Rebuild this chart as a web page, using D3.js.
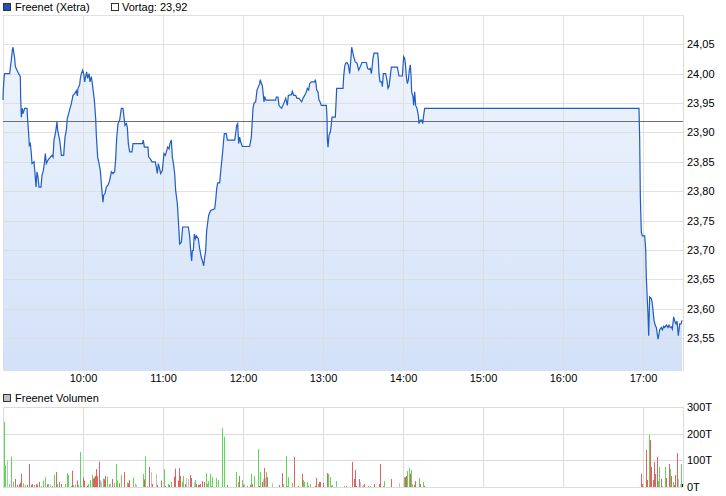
<!DOCTYPE html>
<html><head><meta charset="utf-8">
<script src="https://cdn.jsdelivr.net/npm/d3@7"></script>
<style>
body{margin:0;background:#fff}
svg{display:block}
text{font-family:"Liberation Sans",Arial,sans-serif;font-size:11px;fill:#000}
</style>
</head><body>
<svg id="c" width="726" height="496"></svg>
<script>
// ---------- data ----------
const seriesName = "Freenet (Xetra)";
const prevCloseLabel = "Vortag: 23,92";
const prevClose = 23.92;
const volumeName = "Freenet Volumen";
const priceTicks = [23.55,23.60,23.65,23.70,23.75,23.80,23.85,23.90,23.95,24.00,24.05];
const gridTicks = [23.55,23.60,23.65,23.70,23.75,23.80,23.85,23.90,23.95,24.00,24.05,24.10];
const hourLabels = ["10:00","11:00","12:00","13:00","14:00","15:00","16:00","17:00"];
const volTicks = [0,100,200,300];
const volTickLabels = ["0T","100T","200T","300T"];

// minutes after 09:00 and price
const priceMin = [0,0.2,1,1.25,5,6.25,7,7.5,8,8.75,9.25,10.5,11.75,13,13.25,13.75,14.5,15,16.25,18,18.5,19.25,19.75,20.5,21.25,21.75,23.25,24,24.75,25.5,26.25,27,28.5,29.25,30.25,31,31.75,32.5,33.75,35.5,36.75,37.5,38.25,39.5,40.5,41,41.75,42.5,43.25,43.75,45.5,46.5,47.5,48.25,49.25,50.25,51.25,52.5,53.75,55,55.75,56.25,57.5,58,58.75,59.75,60.5,61.25,62,62.75,63.5,64.5,65.25,66.25,67,68.5,69.5,70,71,72,73,73.75,74.5,75,75.5,76.5,77.5,78.75,80,81.25,82.5,83.75,84.5,85.25,86.25,87.5,88.75,90,90.75,91.5,92.5,93.25,94,95,96.75,97.5,104.5,105.25,106,108.75,109.25,110.5,111.75,114.25,115,115.75,116.5,117.5,118.25,119.5,120.75,121.75,122.5,123.5,124.5,125.25,126.25,127,128,128.75,129.5,130.75,131.75,132.5,133.75,134.75,139,140,140.75,141.5,142,142.75,143.5,144.25,145,146.5,147.5,148.75,149.5,150.5,151.25,152,152.75,154.25,155.75,158.75,159.5,160.25,161,162.5,163,164,164.75,165.5,166,167.5,168.25,173.75,174.5,175.25,176,176.75,177.5,178.25,179.5,185,186.25,187,187.5,188.25,189.5,190.5,192.5,193,193.75,194.5,195.25,195.75,196.25,197.25,204.5,205,206.25,207,208,209,210,211,212,213.25,214,215.5,216.25,217,218,219.5,220.5,222,223,224,225,226.25,227.5,228.25,229.25,230,231.25,233.75,234.25,234.75,235.25,236.25,237,237.75,238.75,242.5,243,243.25,243.75,244.5,245.5,246,246.75,249.25,249.75,250.25,255,255.5,256.25,257,258,259,260,260.75,261.5,262.25,263,264.25,265.5,266.75,268,269.25,272.5,273.5,274.5,275.5,276.25,276.75,277.5,278.25,281,281.5,282,282.75,284,284.5,285.25,287,288,288.75,289.5,290.25,291.25,295.75,297,299.5,300.5,301.25,301.75,302.5,303.25,304,304.75,305.5,306,306.5,307.5,308,308.75,309.5,310.5,311.5,312,313,314,314.75,315.5,316.25,477,477.5,478,478.75,479.5,481.25,482,482.5,483.25,483.75,484.25,485,486.25,487,487.5,488.25,489.25,490,491.25,492,492.5,493.75,494.5,495.5,496.25,497.5,498.75,499.5,500.5,501.25,502,503,504,504.75,505.5,506.5,507.5,508.5,509.25];
const priceVal = [23.955,23.972,23.998,24.000,24.000,24.024,24.040,24.045,24.037,24.026,24.012,24.006,24.000,23.995,23.958,23.926,23.941,23.932,23.941,23.941,23.921,23.898,23.878,23.881,23.864,23.847,23.850,23.830,23.807,23.833,23.824,23.807,23.807,23.827,23.835,23.847,23.864,23.847,23.853,23.858,23.861,23.858,23.887,23.901,23.918,23.904,23.895,23.887,23.872,23.861,23.861,23.892,23.904,23.924,23.932,23.941,23.949,23.963,23.966,23.971,23.962,23.975,23.981,23.992,24.000,24.006,24.000,23.986,23.995,24.003,23.992,24.000,23.986,23.995,23.983,23.955,23.924,23.895,23.858,23.847,23.835,23.813,23.793,23.781,23.793,23.796,23.807,23.810,23.818,23.833,23.830,23.833,23.855,23.890,23.915,23.921,23.941,23.941,23.926,23.912,23.915,23.909,23.881,23.867,23.867,23.881,23.881,23.887,23.875,23.875,23.858,23.855,23.850,23.850,23.841,23.830,23.847,23.838,23.830,23.835,23.864,23.861,23.867,23.875,23.872,23.881,23.887,23.858,23.844,23.830,23.801,23.779,23.742,23.710,23.713,23.739,23.739,23.724,23.699,23.681,23.699,23.699,23.727,23.719,23.724,23.719,23.702,23.687,23.682,23.673,23.687,23.699,23.733,23.759,23.767,23.770,23.784,23.804,23.814,23.814,23.827,23.850,23.867,23.887,23.898,23.898,23.887,23.887,23.898,23.912,23.915,23.881,23.892,23.884,23.876,23.876,23.892,23.921,23.941,23.950,23.952,23.972,23.983,23.990,23.983,23.980,23.964,23.952,23.961,23.955,23.955,23.960,23.960,23.946,23.943,23.941,23.946,23.952,23.958,23.946,23.963,23.964,23.964,23.970,23.963,23.963,23.958,23.958,23.955,23.952,23.958,23.963,23.969,23.975,23.972,23.983,23.986,23.986,23.990,23.983,23.972,23.969,23.955,23.952,23.946,23.946,23.926,23.889,23.875,23.895,23.901,23.909,23.926,23.926,23.949,23.975,23.975,23.995,24.012,24.018,24.019,24.015,24.000,24.020,24.045,24.037,24.029,24.020,24.018,24.006,24.012,24.019,24.019,24.009,24.007,24.009,24.000,24.009,24.026,24.035,24.035,24.023,24.000,23.986,23.986,23.978,24.000,24.000,23.989,23.975,23.978,23.992,24.011,24.011,23.996,23.996,24.029,24.026,24.018,23.995,23.983,23.989,24.006,24.015,23.998,23.969,23.961,23.946,23.969,23.946,23.941,23.929,23.915,23.921,23.921,23.915,23.929,23.941,23.941,23.890,23.790,23.730,23.724,23.724,23.702,23.653,23.614,23.591,23.554,23.620,23.617,23.609,23.597,23.580,23.571,23.568,23.548,23.557,23.564,23.568,23.564,23.570,23.568,23.572,23.568,23.572,23.568,23.569,23.565,23.586,23.577,23.574,23.579,23.554,23.574,23.574,23.580];

// volume: minutes after 09:00, volume in thousands, direction (u=up, d=down, n=unchanged)
const volMin = [0.5,1.3,2.8,4.3,6,7.5,9,10.5,12,12.8,13.5,15,16.5,18,19.5,21,21.8,23.3,24.8,25.5,27,28.5,30,31.5,33,33.8,35.3,36.8,38.3,39.8,40.5,42,43.5,46.5,48,48.8,51,51.8,52.5,54,55.5,56.3,57.8,58.5,60,60.8,63,63.8,65.3,66.8,67.5,68.3,69,69.8,70.5,72,72.8,73.5,75,75.8,76.5,78,79.5,80.3,81.8,83.3,84.8,85.5,87,88.5,90.8,93,93.8,94.5,97.5,99,99.8,105,105.8,106.5,108,109.5,110.8,111.8,114.5,115.3,118.3,120.5,121.3,123.5,124.3,125.8,128,128.8,131,131.8,132.5,134,134.8,136.3,137,138.5,140,140.8,143,143.8,144.5,146,146.8,147.5,149,150.5,152,152.8,153.5,155,155.8,156.5,159.5,161,164,165.5,167.8,174.5,176,176.8,179,179.8,180.5,182.8,185,185.8,186.5,188,191,191.8,192.5,194,194.8,195.5,196.3,197,197.8,201.5,206.8,209,209.8,212,212.8,213.5,216.5,218,221,224,224.8,225.5,227.8,228.5,230,233.8,234.5,236,236.8,237.5,239.8,242.8,243.5,245,245.8,246.5,249.5,255.5,257,261.5,263,263.8,264.5,266.8,267.5,269,269.8,270.5,273.5,275,278,281.8,282.5,284.8,285.5,290.8,296.8,300.5,301.3,302,302.8,304.3,305,305.8,306.5,308,308.8,311.8,312.5,314.8,315.5,478.3,479,482,482.8,484.3,485,485.8,487.3,488,488.8,490.3,491,491.8,493.3,494,496.3,497,499.3,500,500.8,502.3,503,503.8,505.3,506,507.8,508.5,509.3];
const volVal = [245,82,99,11,114,20,30,8,10,16,49,14,8,8,86,8,11,8,10,10,19,4,24,37,10,11,10,4,45,56,11,19,11,11,52,45,4,61,8,9,24,8,132,4,36,24,5,12,26,45,32,36,41,67,41,95,26,20,32,29,41,39,11,12,30,14,86,24,14,44,56,17,14,26,35,14,9,49,29,115,5,75,56,11,49,8,24,67,4,11,8,19,39,69,24,71,41,19,41,11,34,30,45,34,19,26,11,8,8,11,22,19,52,11,22,49,4,37,34,26,222,189,8,56,19,41,26,8,11,4,8,49,11,41,142,4,56,19,30,71,34,56,37,15,8,52,11,116,4,37,15,112,4,49,26,19,19,4,11,4,34,11,19,19,15,52,49,37,4,8,22,4,4,94,30,64,4,30,19,4,8,11,4,4,11,11,86,4,22,30,15,37,37,41,60,71,49,64,11,8,22,34,11,19,4,49,11,139,26,195,176,75,26,94,49,112,22,75,30,4,75,34,86,67,41,19,8,45,127,30,11,86,11];
const volDir = ["u","u","n","u","u","u","d","d","d","d","d","u","u","d","d","d","d","u","d","d","d","u","u","u","d","u","n","u","u","d","u","d","d","u","u","u","u","d","u","u","d","u","u","u","d","d","d","u","u","u","d","d","d","d","d","d","n","n","u","d","d","u","u","n","d","u","u","u","d","u","d","u","d","d","u","n","n","u","d","u","n","d","n","d","n","d","d","u","d","u","d","u","d","d","d","d","d","u","u","d","n","n","d","d","n","u","d","d","d","d","d","d","u","u","u","u","u","u","u","u","u","u","d","u","u","d","u","d","n","d","d","u","d","u","u","d","u","d","n","d","n","u","d","n","d","d","u","u","u","u","u","d","d","d","u","u","u","d","u","d","d","u","d","d","d","d","u","u","d","u","u","u","u","d","d","d","d","d","n","n","n","d","u","u","d","d","d","u","u","d","n","u","d","d","u","u","d","u","u","d","d","u","d","u","d","d","d","d","d","u","d","d","d","d","d","d","u","u","d","u","u","d","d","u","d","u","d","d","d","n","n","u"];

// ---------- layout ----------
const svg = d3.select("#c");
const base = new Date(2020,0,1,9,0,0);
const toDate = m => new Date(base.getTime() + m*60000);
const x = d3.scaleTime().domain([toDate(0), toDate(510)]).range([3,683]);
const y = d3.scaleLinear().domain([23.55,24.05]).range([338,44.3]);
const plotTop = 15, plotBottom = 371, plotLeft = 3, plotRight = 683;
const yv = d3.scaleLinear().domain([0,300]).range([487,407]);
const crisp = v => Math.round(v) + 0.5;
const gridColor = "#dcdcdc";

const hourDates = d3.range(9,18).map(h => new Date(2020,0,1,h,0,0));
const labelDates = hourLabels.map(s => { const [h,mm] = s.split(":").map(Number); return new Date(2020,0,1,h,mm,0); });

// gradient
const defs = svg.append("defs");
const grad = defs.append("linearGradient").attr("id","fillGrad")
  .attr("gradientUnits","userSpaceOnUse").attr("x1",0).attr("x2",0).attr("y1",plotTop).attr("y2",plotBottom);
grad.append("stop").attr("offset","0%").attr("stop-color","#f1f6fd");
grad.append("stop").attr("offset","100%").attr("stop-color","#d3e1f8");

// ---------- price panel ----------
const gP = svg.append("g");
const pts = priceMin.map((m,i) => [toDate(m), priceVal[i]]);
gP.append("path").datum(pts)
  .attr("fill","url(#fillGrad)")
  .attr("d", d3.area().x(d=>x(d[0])).y0(plotBottom).y1(d=>y(d[1])));
gP.selectAll(".hg").data(gridTicks).join("line")
  .attr("x1",plotLeft).attr("x2",plotRight)
  .attr("y1",d=>crisp(y(d))).attr("y2",d=>crisp(y(d)))
  .attr("stroke",gridColor).attr("stroke-width",1).attr("opacity",0.85);
gP.selectAll(".vg").data(hourDates).join("line")
  .attr("x1",d=>crisp(x(d))).attr("x2",d=>crisp(x(d)))
  .attr("y1",plotTop).attr("y2",plotBottom)
  .attr("stroke",gridColor).attr("stroke-width",1).attr("opacity",0.85);
gP.append("line").attr("x1",plotRight+0.5).attr("x2",plotRight+0.5)
  .attr("y1",plotTop).attr("y2",plotBottom).attr("stroke",gridColor);
gP.append("line").attr("x1",plotLeft).attr("x2",plotRight)
  .attr("y1",crisp(y(prevClose))).attr("y2",crisp(y(prevClose)))
  .attr("stroke","#6e6e6e").attr("stroke-width",1);
gP.append("path").datum(pts)
  .attr("fill","none").attr("stroke","#1f5cc4").attr("stroke-width",1.2)
  .attr("stroke-linejoin","miter")
  .attr("d", d3.line().x(d=>x(d[0])).y(d=>y(d[1])));

// right axis
const yAxis = d3.axisRight(y).tickValues(priceTicks).tickSize(0).tickPadding(4)
  .tickFormat(d => d.toFixed(2).replace(".",","));
const ya = svg.append("g").attr("transform",`translate(${plotRight},0)`).call(yAxis);
ya.select(".domain").remove();
ya.selectAll("text").attr("font-family","Liberation Sans, Arial, sans-serif").attr("font-size",11).attr("fill","#000");

// bottom axis
const xAxis = d3.axisBottom(x).tickValues(labelDates).tickSize(0).tickPadding(3)
  .tickFormat((d,i) => hourLabels[i]);
const xa = svg.append("g").attr("transform",`translate(0,${plotBottom})`).call(xAxis);
xa.select(".domain").remove();
xa.selectAll("text").attr("font-family","Liberation Sans, Arial, sans-serif").attr("font-size",11).attr("fill","#000");

// legend
svg.append("rect").attr("x",3.5).attr("y",3.5).attr("width",7).attr("height",7)
  .attr("fill","#1f52b4").attr("stroke","#333");
svg.append("text").attr("x",15).attr("y",10.5).text(seriesName);
svg.append("rect").attr("x",111.5).attr("y",3.5).attr("width",7).attr("height",7)
  .attr("fill","#fff").attr("stroke","#333");
svg.append("text").attr("x",122).attr("y",10.5).text(prevCloseLabel);

// ---------- volume panel ----------
const gV = svg.append("g");
gV.selectAll(".vhg").data(volTicks).join("line")
  .attr("x1",plotLeft).attr("x2",plotRight)
  .attr("y1",d=>crisp(yv(d))).attr("y2",d=>crisp(yv(d)))
  .attr("stroke",gridColor);
gV.selectAll(".vvg").data(hourDates).join("line")
  .attr("x1",d=>crisp(x(d))).attr("x2",d=>crisp(x(d)))
  .attr("y1",yv(300)).attr("y2",yv(0))
  .attr("stroke",gridColor);
gV.append("line").attr("x1",plotRight+0.5).attr("x2",plotRight+0.5)
  .attr("y1",yv(300)).attr("y2",yv(0)).attr("stroke",gridColor);
const dirColor = {u:"#5fd85a", d:"#e06363", n:"#c0c0c0"};
gV.selectAll(".bar").data(volMin.map((m,i)=>({m, v:volVal[i], d:volDir[i]}))).join("rect")
  .attr("x",d=>Math.round(x(toDate(d.m))))
  .attr("width",1)
  .attr("y",d=>yv(d.v))
  .attr("height",d=>yv(0)-yv(d.v))
  .attr("fill",d=>dirColor[d.d]);
const vAxis = d3.axisRight(yv).tickValues(volTicks).tickSize(0).tickPadding(4)
  .tickFormat((d,i)=>volTickLabels[i]);
const va = svg.append("g").attr("transform",`translate(${plotRight},0)`).call(vAxis);
va.select(".domain").remove();
va.selectAll("text").attr("font-family","Liberation Sans, Arial, sans-serif").attr("font-size",11).attr("fill","#000");
svg.append("rect").attr("x",3.5).attr("y",394.5).attr("width",7).attr("height",7)
  .attr("fill","#c0c0c0").attr("stroke","#333");
svg.append("text").attr("x",15).attr("y",402).text(volumeName);
</script>
</body></html>
